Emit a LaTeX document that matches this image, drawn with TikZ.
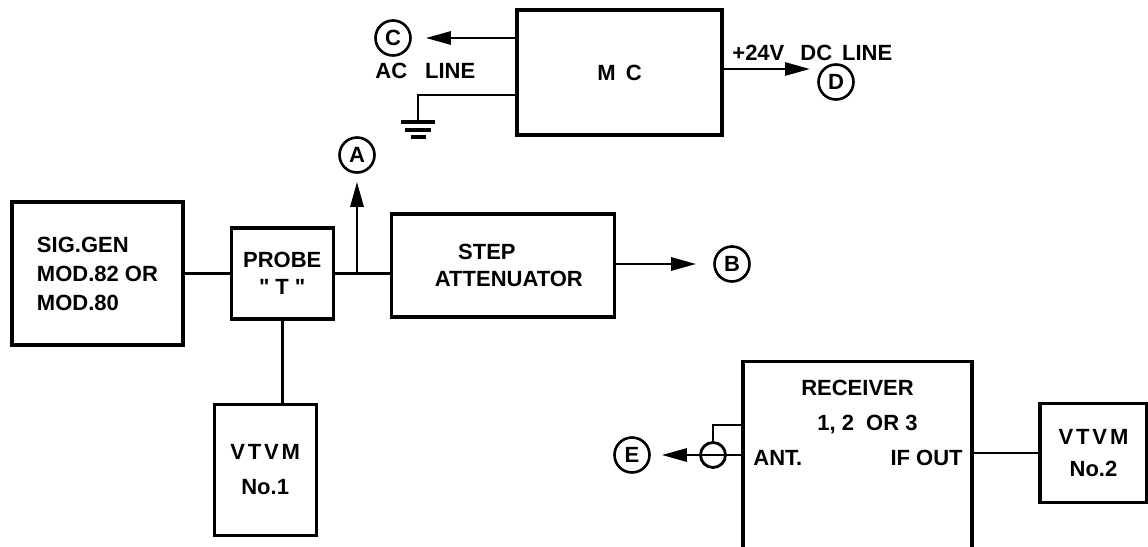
\documentclass[tikz,border=0pt]{standalone}
\usepackage{fontspec}
\setmainfont{Liberation Sans}
\usetikzlibrary{positioning,arrows.meta}
\newcommand{\tracked}[1]{{\addfontfeature{LetterSpace=13}#1}}

\begin{document}
\begin{tikzpicture}[
  x=0.5pt, y=-0.5pt,
  font=\fontsize{11pt}{14.5pt}\selectfont\bfseries,
  box/.style={draw, line width=1.6pt, inner sep=0pt, align=center},
  term/.style={draw, circle, line width=1.3pt, minimum size=17.5pt, inner sep=0pt},
  wire/.style={line width=1.4pt},
  feed/.style={wire, -{Triangle[length=12.5pt, width=6.5pt]}},
  lbl/.style={inner sep=0pt, align=center},
]
  \useasboundingbox (0,0) rectangle (1148,547);
  \clip (0,0) rectangle (1148,547);

  % Signal chain
  \node[box, minimum width=85.5pt, minimum height=71.5pt, align=left] (sig) at (97.5,273.5) {SIG.GEN\\MOD.82 OR\\MOD.80};
  \node[box, minimum width=51pt, minimum height=45.5pt, right=22.5pt of sig] (probe) {PROBE\\[-1pt]\textquotedbl\hspace{3pt}T\hspace{3pt}\textquotedbl};
  \node[box, minimum width=111.5pt, minimum height=51.5pt, right=27.5pt of probe, yshift=4pt] (atten) {STEP\hspace*{16pt}\\[-1pt]\hspace*{6pt}ATTENUATOR};
  \node[box, minimum width=51pt, minimum height=65.5pt, below=41pt of probe, xshift=-8.5pt] (vtvm1) {\tracked{VTVM}\\[3pt]No.1};

  % Terminals
  \node[term] (a) at (357,155) {A};
  \node[term] (b) at (732,264) {B};

  \draw[wire] (sig.east) -- (probe.west);
  \draw[wire] (probe.east) -- (probe.east -| atten.west);
  \draw[wire] (probe.south) -- (probe.south |- vtvm1.north);
  \draw[feed, shorten >=4pt] (a |- probe.east) -- (a);
  \draw[feed, shorten >=8.5pt] (atten.east |- b) -- (b);

  % Power unit
  \node[box, minimum width=102.5pt, minimum height=62.5pt] (mc) at (619.5,72.5) {M\hspace{2pt} C};
  \node[term] (c) at (393,38) {C};
  \node[term] (d) at (836,82) {D};
  \node[lbl, anchor=base west] (acline) at (375,78) {AC\hspace{9pt}LINE};
  \node[lbl, anchor=base west] (dcline) at (732,60) {+24V\hspace{8pt}DC\hspace{5pt}LINE};
  \coordinate (dtip) at (810,69);
  \coordinate (gnd) at (418,122);

  \draw[feed, shorten >=7pt] (mc.west |- c) -- (c);
  \draw[feed] (mc.east |- dtip) -- (dtip);
  \draw[wire] ([yshift=-11.25pt]mc.west) -| (gnd);
  \draw[line width=1.8pt] ([xshift=-8.5pt]gnd) -- ([xshift=8.5pt]gnd)
    ([xshift=-6.5pt, yshift=-4pt]gnd) -- ([xshift=6.5pt, yshift=-4pt]gnd)
    ([xshift=-3.75pt, yshift=-7.5pt]gnd) -- ([xshift=3.75pt, yshift=-7.5pt]gnd);

  % Receiver
  \node[box, minimum width=114.5pt, minimum height=120pt, anchor=north] (rcv) at (857.5,360) {};
  \node[lbl, below=10pt of rcv.north] (rcvname) {RECEIVER\\[3pt]\hspace*{10pt}1, 2\hspace{6pt}OR 3};
  \node[lbl, anchor=base west] (ant) at (753,465) {ANT.};
  \node[lbl, anchor=base east] (ifout) at (963,465) {IF OUT};
  \node[box, minimum width=53.5pt, minimum height=49.5pt] (vtvm2) at (1093.5,453) {\tracked{VTVM}\\[1.5pt]No.2};
  \node[draw, circle, wire, minimum size=12.5pt, inner sep=0pt] (coax) at (713,455) {};
  \node[term] (e) at (632,455) {E};

  \draw[wire] (vtvm2.west -| rcv.east) -- (vtvm2.west);
  \draw[wire] (coax.west) -- (coax.west -| rcv.west);
  \draw[wire] (coax.north) |- ([yshift=-32.5pt]rcv.north west);
  \draw[feed, shorten >=5.5pt] (coax.west) -- (e);
\end{tikzpicture}
\end{document}
